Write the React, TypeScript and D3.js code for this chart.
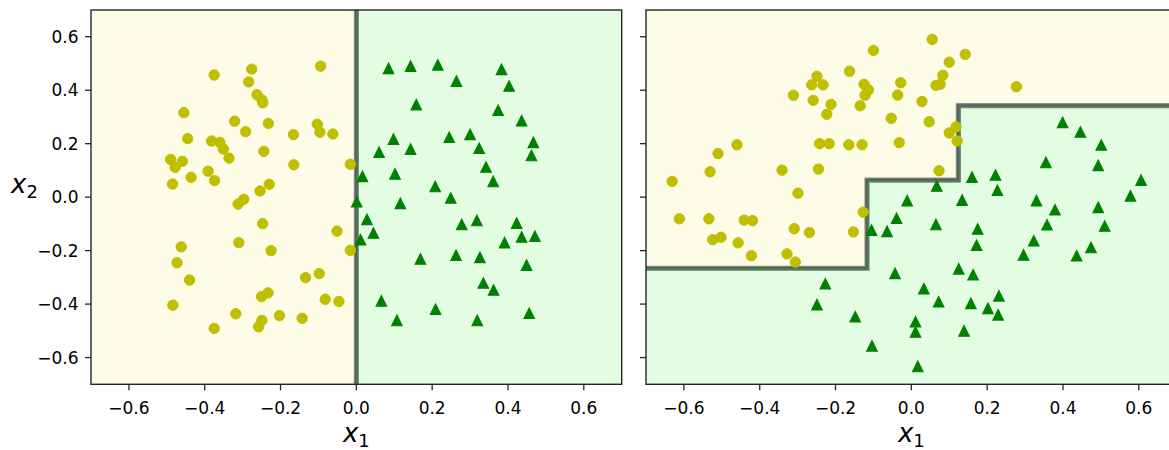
import React from 'react';
import * as d3 from 'd3';

// ---------- data ----------
const tickValues = [-0.6, -0.4, -0.2, 0.0, 0.2, 0.4, 0.6];

// Left panel (unrotated data)
const leftYellowX = [-0.375, -0.276, -0.284, -0.094, -0.262, -0.247, -0.249, -0.455, -0.321, -0.232, -0.292, -0.103, -0.096, -0.062, -0.166, -0.445, -0.382, -0.360, -0.351, -0.336, -0.244, -0.165, -0.016, -0.490, -0.459, -0.478, -0.391, -0.374, -0.436, -0.485, -0.230, -0.254, -0.297, -0.312, -0.247, -0.051, -0.310, -0.225, -0.016, -0.462, -0.473, -0.440, -0.134, -0.098, -0.484, -0.250, -0.233, -0.082, -0.046, -0.318, -0.203, -0.143, -0.249, -0.258, -0.375];
const leftYellowY = [0.457, 0.479, 0.431, 0.490, 0.383, 0.353, 0.364, 0.316, 0.284, 0.276, 0.245, 0.273, 0.243, 0.236, 0.234, 0.219, 0.210, 0.205, 0.180, 0.146, 0.171, 0.121, 0.123, 0.141, 0.134, 0.112, 0.097, 0.062, 0.074, 0.049, 0.048, 0.023, -0.008, -0.026, -0.099, -0.127, -0.170, -0.200, -0.199, -0.186, -0.245, -0.310, -0.301, -0.286, -0.404, -0.372, -0.358, -0.382, -0.390, -0.436, -0.443, -0.453, -0.461, -0.485, -0.491];
const leftGreenX = [0.085, 0.143, 0.215, 0.383, 0.264, 0.403, 0.158, 0.374, 0.436, 0.098, 0.245, 0.300, 0.060, 0.143, 0.324, 0.467, 0.462, 0.342, 0.016, 0.102, 0.361, 0.208, 0.249, 0.001, 0.116, 0.028, 0.045, 0.011, 0.278, 0.318, 0.423, 0.391, 0.436, 0.471, 0.169, 0.263, 0.326, 0.449, 0.335, 0.362, 0.066, 0.209, 0.107, 0.319, 0.456];
const leftGreenY = [0.482, 0.490, 0.495, 0.478, 0.434, 0.416, 0.346, 0.325, 0.286, 0.217, 0.224, 0.235, 0.168, 0.180, 0.183, 0.205, 0.156, 0.113, 0.078, 0.087, 0.059, 0.040, -0.003, -0.017, -0.023, -0.083, -0.134, -0.159, -0.102, -0.087, -0.097, -0.170, -0.149, -0.146, -0.231, -0.217, -0.225, -0.254, -0.321, -0.347, -0.388, -0.419, -0.461, -0.461, -0.434];
const leftBoundaryX = [0.0];

// Right panel (rotated data)
const rightYellowX = [-0.100, -0.163, -0.249, -0.263, -0.233, -0.125, -0.113, -0.122, -0.028, -0.036, -0.311, -0.259, -0.212, -0.223, -0.135, -0.053, -0.460, -0.510, -0.531, -0.631, -0.242, -0.217, -0.165, -0.130, -0.032, -0.341, -0.245, -0.299, -0.612, -0.534, -0.441, -0.419, -0.524, -0.502, -0.457, -0.422, -0.309, -0.269, -0.328, -0.306, -0.153, -0.127, 0.055, 0.142, 0.100, 0.083, 0.065, 0.076, 0.277, 0.028, 0.047, 0.118, 0.100, 0.121, 0.073];
const rightYellowY = [0.549, 0.471, 0.452, 0.420, 0.420, 0.422, 0.401, 0.381, 0.428, 0.382, 0.381, 0.362, 0.347, 0.310, 0.342, 0.295, 0.196, 0.163, 0.095, 0.059, 0.200, 0.200, 0.196, 0.196, 0.204, 0.101, 0.105, 0.015, -0.081, -0.081, -0.086, -0.088, -0.159, -0.150, -0.171, -0.219, -0.118, -0.132, -0.212, -0.243, -0.130, -0.056, 0.590, 0.534, 0.505, 0.456, 0.418, 0.422, 0.413, 0.358, 0.282, 0.263, 0.240, 0.210, 0.099];
const rightGreenX = [0.399, 0.446, 0.501, 0.355, 0.493, 0.160, 0.222, 0.067, 0.227, 0.606, 0.578, -0.011, 0.134, 0.330, 0.379, 0.493, 0.358, 0.510, 0.323, 0.474, 0.296, 0.436, 0.065, 0.175, 0.172, 0.125, 0.163, 0.033, 0.072, 0.157, 0.231, 0.202, 0.229, 0.011, 0.011, 0.139, 0.017, -0.105, -0.064, -0.039, -0.043, -0.227, -0.249, -0.148, -0.104];
const rightGreenY = [0.280, 0.244, 0.195, 0.130, 0.119, 0.075, 0.083, 0.042, 0.026, 0.064, 0.005, -0.013, -0.011, -0.013, -0.047, -0.038, -0.103, -0.108, -0.163, -0.188, -0.216, -0.219, -0.102, -0.119, -0.180, -0.268, -0.290, -0.342, -0.391, -0.397, -0.369, -0.416, -0.440, -0.466, -0.504, -0.500, -0.633, -0.123, -0.128, -0.079, -0.285, -0.324, -0.402, -0.447, -0.556];
const rightStepX = [-0.117, 0.124];
const rightStepY = [-0.266, 0.064, 0.342];

// ---------- styling / layout ----------
const W = 1169;
const H = 450;
const TOP = 10;
const BOTTOM = 384.3;
const yellowBg = '#fdfde7';
const greenBg = '#e2fde2';
const yellowMk = '#bfbf00';
const greenMk = '#008000';
const contourColors = ['#7d7d58', '#7d7d58', '#4c4c7f', '#4c4c7f', '#507d50', '#507d50'];
const contourOffsets = [1.7, 1.0, 0.35, -0.35, -1.0, -1.7]; // toward yellow side positive
const tickFont = 17;
const labelFont = 26;
const subFont = 18;
const FONT = 'DejaVu Sans';

const yScale = d3.scaleLinear().domain([-0.7, 0.7]).range([BOTTOM, TOP]);
const xLeft = d3.scaleLinear().domain([-0.7, 0.7]).range([91, 621.7]);
const xRight = d3.scaleLinear().domain([-0.7, 0.7]).range([646, 1176.7]);
const fmt = d3.format('.1f');

function triPath(cx: number, cy: number, h: number) {
  return `M${cx},${cy - h}L${cx - h},${cy + h}L${cx + h},${cy + h}Z`;
}

function Markers({ xs, ys, x, kind }: { xs: number[]; ys: number[]; x: d3.ScaleLinear<number, number>; kind: 'circle' | 'tri' }) {
  return (
    <g>
      {xs.map((v, i) =>
        kind === 'circle' ? (
          <circle key={i} cx={x(v)} cy={yScale(ys[i])} r={5.2} fill={yellowMk} stroke={yellowMk} strokeWidth={1} />
        ) : (
          <path key={i} d={triPath(x(v), yScale(ys[i]), 5.3)} fill={greenMk} stroke={greenMk} strokeWidth={1.1} strokeLinejoin="miter" />
        )
      )}
    </g>
  );
}

function Axes({ x, showYLabels, id, children }: { x: d3.ScaleLinear<number, number>; showYLabels: boolean; id: string; children: React.ReactNode }) {
  const [x0, x1] = x.range();
  return (
    <g>
      <defs>
        <clipPath id={id}>
          <rect x={x0} y={TOP} width={x1 - x0} height={BOTTOM - TOP} />
        </clipPath>
      </defs>
      <g clipPath={`url(#${id})`}>{children}</g>
      <rect x={x0} y={TOP} width={x1 - x0} height={BOTTOM - TOP} fill="none" stroke="#262626" strokeWidth={1.4} />
      {tickValues.map((t) => (
        <g key={'x' + t}>
          <line x1={x(t)} x2={x(t)} y1={BOTTOM} y2={BOTTOM + 6} stroke="#262626" strokeWidth={1.3} />
          <text x={x(t)} y={BOTTOM + 29.5} textAnchor="middle" fontFamily={FONT} fontSize={tickFont} fill="#000">
            {fmt(t)}
          </text>
        </g>
      ))}
      {tickValues.map((t) => (
        <g key={'y' + t}>
          <line x1={x0 - 6} x2={x0} y1={yScale(t)} y2={yScale(t)} stroke="#262626" strokeWidth={1.3} />
          {showYLabels && (
            <text x={x0 - 12.5} y={yScale(t) + 6.2} textAnchor="end" fontFamily={FONT} fontSize={tickFont} fill="#000">
              {fmt(t)}
            </text>
          )}
        </g>
      ))}
      <text x={(x0 + x1) / 2 - 13.4} y={442} fontFamily={FONT} fontSize={labelFont} fill="#000">
        <tspan fontStyle="italic">x</tspan>
        <tspan fontSize={subFont} dy={5}>1</tspan>
      </text>
    </g>
  );
}

export default function App() {
  const bx = xLeft(leftBoundaryX[0]);
  const [rx0, rx1] = xRight.range();
  const X1 = xRight(rightStepX[0]);
  const X2 = xRight(rightStepX[1]);
  const Y1 = yScale(rightStepY[0]);
  const Y2 = yScale(rightStepY[1]);
  const Y3 = yScale(rightStepY[2]);
  const stairs = `M${rx0 - 10},${Y1}L${X1},${Y1}L${X1},${Y2}L${X2},${Y2}L${X2},${Y3}L${rx1 + 10},${Y3}`;
  const yellowPoly = `M${rx0},${TOP}L${rx1},${TOP}L${rx1},${Y3}L${X2},${Y3}L${X2},${Y2}L${X1},${Y2}L${X1},${Y1}L${rx0},${Y1}Z`;
  const [lx0, lx1] = xLeft.range();

  return (
    <svg width={W} height={H} style={{ position: 'absolute', left: 0, top: 0, background: '#fff' }}>
      <Axes x={xLeft} showYLabels={true} id="clipL">
        <rect x={lx0} y={TOP} width={bx - lx0} height={BOTTOM - TOP} fill={yellowBg} />
        <rect x={bx} y={TOP} width={lx1 - bx} height={BOTTOM - TOP} fill={greenBg} />
        {contourOffsets.map((d, i) => (
          <line key={i} x1={bx - d} x2={bx - d} y1={TOP - 5} y2={BOTTOM + 5} stroke={contourColors[i]} strokeOpacity={0.8} strokeWidth={1.8} />
        ))}
        <Markers xs={leftYellowX} ys={leftYellowY} x={xLeft} kind="circle" />
        <Markers xs={leftGreenX} ys={leftGreenY} x={xLeft} kind="tri" />
      </Axes>
      <Axes x={xRight} showYLabels={false} id="clipR">
        <rect x={rx0} y={TOP} width={rx1 - rx0} height={BOTTOM - TOP} fill={greenBg} />
        <path d={yellowPoly} fill={yellowBg} />
        {contourOffsets.map((d, i) => (
          <path key={i} d={stairs} transform={`translate(${-d},${-d})`} fill="none" stroke={contourColors[i]} strokeOpacity={0.8} strokeWidth={1.8} strokeLinejoin="round" />
        ))}
        <Markers xs={rightYellowX} ys={rightYellowY} x={xRight} kind="circle" />
        <Markers xs={rightGreenX} ys={rightGreenY} x={xRight} kind="tri" />
      </Axes>
      <text x={11} y={193} fontFamily={FONT} fontSize={labelFont} fill="#000">
        <tspan fontStyle="italic">x</tspan>
        <tspan fontSize={subFont} dy={5}>2</tspan>
      </text>
    </svg>
  );
}
